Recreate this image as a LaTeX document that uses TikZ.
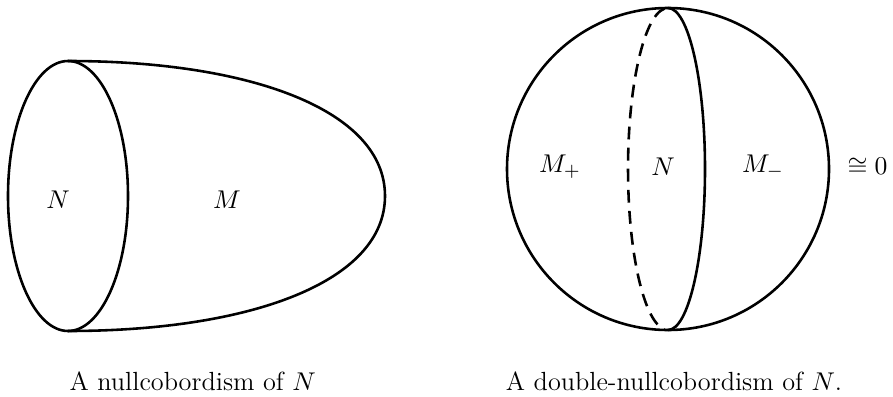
\documentclass[tikz,border=0pt]{standalone}
\usepackage{amssymb,amsmath}
\usepackage{tikz}
\usetikzlibrary{calc}
\tikzset{
  every node/.style={font=\fontsize{11.2}{13.4}\selectfont},
  surface/.style={line width=1.1pt},
  hidden/.style={line width=1.1pt, dash pattern=on 5.5pt off 3.5pt},
}

\begin{document}
\begin{tikzpicture}
    \useasboundingbox (0,0) rectangle (13.395,5.94);
    % Nullcobordism
    \draw[surface] (1.02,3.0) ellipse (0.9cm and 2.025cm);
    \draw[surface] (1.02,5.025) .. controls (3.75,5.025) and (5.775,4.29) .. (5.775,3.0)
        .. controls (5.775,1.71) and (3.75,0.975) .. (1.02,0.975);
    \node (nL) at (0.87,2.94) {$N$};
    \node (mL) at (3.405,2.94) {$M$};
    % Double-nullcobordism
    \draw[surface] (10.02,3.405) circle (2.415cm);
    \draw[surface] (10.02,5.82) arc (90:-90:0.555cm and 2.415cm);
    \draw[hidden] (9.968,5.811) arc (95:265:0.6cm and 2.415cm);
    \node (mplus) at (8.4,3.435) {$M_+$};
    \node (nR) at (9.945,3.435) {$N$};
    \node (mminus) at (11.445,3.435) {$M_-$};
    \node[anchor=east, inner sep=0pt] (zero) at (13.32,3.435) {$\cong 0$};
    % Captions
    \node[anchor=base] (capL) at (2.89,0.09) {A nullcobordism of $N$};
    \node[anchor=base] (capR) at (10.11,0.09) {A double-nullcobordism of $N$.};
\end{tikzpicture}
\end{document}
